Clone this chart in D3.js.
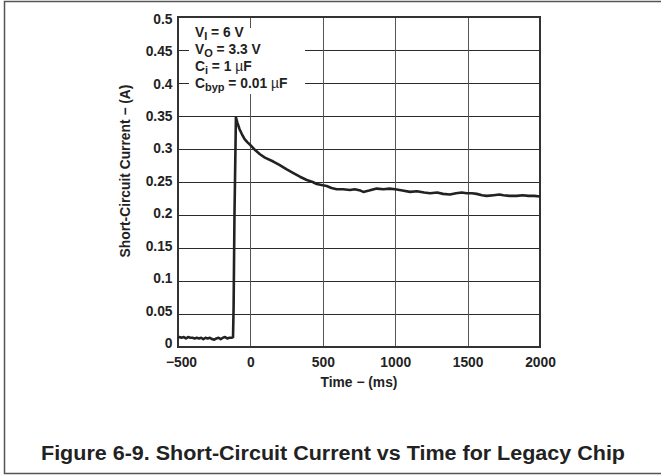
<!DOCTYPE html>
<html>
<head>
<meta charset="utf-8">
<script src="https://cdn.jsdelivr.net/npm/d3@7/dist/d3.min.js"></script>
<style>
  html, body { margin: 0; padding: 0; background: #fff; }
  svg { display: block; }
  text { font-family: "Liberation Sans", Arial, Helvetica, sans-serif; font-weight: bold; fill: #222; }
</style>
</head>
<body>
<svg id="chart" width="661" height="476"></svg>
<script>
// ---- data ----
const timeMs = [-500,-490,-475,-460,-445,-430,-415,-400,-385,-370,-355,-340,-325,-310,-295,-280,-265,-250,-235,-220,-205,-190,-175,-160,-145,-130,-120,
  -116,-110,-106,-100,-90,-75,-60,-40,-20,0,30,66,100,158,200,251,300,342,389,430,458,500,527,560,596,640,688,720,760,780,820,872,920,960,1000,
  1050,1102,1150,1200,1240,1290,1330,1378,1420,1460,1494,1530,1563,1600,1632,1680,1720,1747,1790,1839,1880,1920,1960,2000];
const currentA = [0.014,0.015,0.014,0.015,0.013,0.015,0.014,0.014,0.013,0.014,0.013,0.014,0.012,0.014,0.013,0.014,0.012,0.011,0.013,0.014,0.012,0.014,0.015,0.013,0.014,0.014,0.015,
  0.06,0.2,0.258,0.348,0.340,0.330,0.323,0.315,0.310,0.306,0.299,0.292,0.287,0.281,0.276,0.269,0.263,0.258,0.253,0.250,0.247,0.245,0.244,0.241,0.239,0.239,0.238,0.239,0.237,0.235,0.237,0.240,0.239,0.240,0.239,
  0.237,0.235,0.236,0.234,0.233,0.234,0.232,0.231,0.233,0.234,0.233,0.233,0.232,0.230,0.229,0.230,0.231,0.230,0.229,0.229,0.230,0.229,0.229,0.228];
const xTicks = [-500, 0, 500, 1000, 1500, 2000];
const xTickLabels = ["\u2212500", "0", "500", "1000", "1500", "2000"];
const yTicks = [0, 0.05, 0.1, 0.15, 0.2, 0.25, 0.3, 0.35, 0.4, 0.45, 0.5];
const yTickLabels = ["0", "0.05", "0.1", "0.15", "0.2", "0.25", "0.3", "0.35", "0.4", "0.45", "0.5"];
const xTitle = "Time \u2212 (ms)";
const yTitle = "Short-Circuit Current \u2212 (A)";
const figTitle = "Figure 6-9. Short-Circuit Current vs Time for Legacy Chip";
const conditions = [
  {main: "V", sub: "I", rest: " = 6 V", unit: ""},
  {main: "V", sub: "O", rest: " = 3.3 V", unit: ""},
  {main: "C", sub: "i", rest: " = 1 ", unit: "\u00b5F"},
  {main: "C", sub: "byp", rest: " = 0.01 ", unit: "\u00b5F"}
];

// ---- layout ----
const svg = d3.select("#chart");
const L = 178, R = 540, T = 17, B = 347;
const FS = "13.8px";
const x = d3.scaleLinear().domain([-500, 2000]).range([L, R]);
const y = d3.scaleLinear().domain([0, 0.5]).range([B, T]);
// tick labels in the original sit on a slightly tighter spacing than the grid
const yLab = d3.scaleLinear().domain([0, 0.5]).range([342.5, 18.3]);

// outer frame
svg.append("rect").attr("x", 4.5).attr("y", 1.5).attr("width", 700).attr("height", 472)
  .attr("fill", "none").attr("stroke", "#555").attr("stroke-width", 1.5);

// grid
const grid = svg.append("g");
grid.selectAll("line.h").data(yTicks.slice(1, -1)).join("line")
  .attr("x1", L).attr("x2", R).attr("y1", d => Math.round(y(d)) + 0.5).attr("y2", d => Math.round(y(d)) + 0.5)
  .attr("stroke", "#2a2a2a").attr("stroke-width", 1);
grid.selectAll("line.v").data(xTicks.slice(1, -1)).join("line")
  .attr("y1", T).attr("y2", B).attr("x1", d => Math.round(x(d)) + 0.5).attr("x2", d => Math.round(x(d)) + 0.5)
  .attr("stroke", "#555").attr("stroke-width", 1);

// white box behind conditions
svg.append("rect").attr("x", 189).attr("y", 28).attr("width", 116).attr("height", 66).attr("fill", "#fff");

// plot frame
svg.append("rect").attr("x", L).attr("y", T).attr("width", R - L).attr("height", B - T)
  .attr("fill", "none").attr("stroke", "#333").attr("stroke-width", 2);

// axes (labels only)
const xAxis = d3.axisBottom(x).tickValues(xTicks).tickSize(0).tickPadding(0)
  .tickFormat((d, i) => xTickLabels[i]);
const gx = svg.append("g").attr("transform", `translate(0,${B})`).call(xAxis);
gx.select(".domain").remove();
gx.selectAll("text").attr("dy", null).attr("y", 19.5).style("font-size", FS)
  .style("font-family", "Liberation Sans, Arial, sans-serif").style("font-weight", "bold").attr("fill", "#222");
gx.selectAll("text").filter((d, i) => i === 0).attr("x", 3);

const yAxis = d3.axisLeft(yLab).tickValues(yTicks).tickSize(0).tickPadding(0)
  .tickFormat((d, i) => yTickLabels[i]);
const gy = svg.append("g").attr("transform", `translate(${L - 5.5},0)`).call(yAxis);
gy.select(".domain").remove();
gy.selectAll("text").attr("dy", "0.36em").attr("x", 0).style("font-size", FS)
  .style("font-family", "Liberation Sans, Arial, sans-serif").style("font-weight", "bold").attr("fill", "#222");

// curve
const pts = timeMs.map((t, i) => [t, currentA[i]]);
svg.append("path").datum(pts)
  .attr("d", d3.line().x(d => x(d[0])).y(d => y(d[1])))
  .attr("fill", "none").attr("stroke", "#222").attr("stroke-width", 2.6).attr("stroke-linejoin", "round");

// conditions text
const cg = svg.append("g");
conditions.forEach((c, i) => {
  const t = cg.append("text").attr("x", 195).attr("y", 36.5 + i * 17.2).style("font-size", "13.8px");
  t.append("tspan").text(c.main);
  t.append("tspan").attr("dy", 3).style("font-size", "11px").text(c.sub);
  t.append("tspan").attr("dy", -3).text(c.rest);
  if (c.unit) {
    t.append("tspan").style("font-weight", "normal").text(c.unit[0]);
    t.append("tspan").text(c.unit.slice(1));
  }
});

// axis titles
svg.append("text").attr("x", 359).attr("y", 387).attr("text-anchor", "middle").style("font-size", FS).text(xTitle);
svg.append("text").attr("transform", "translate(130,171) rotate(-90)").attr("text-anchor", "middle")
  .style("font-size", FS).text(yTitle);

// figure title
svg.append("text").attr("x", 333).attr("y", 460).attr("text-anchor", "middle")
  .style("font-size", "20px").attr("textLength", 584).attr("lengthAdjust", "spacingAndGlyphs").attr("fill", "#111")
  .text(figTitle);
</script>
</body>
</html>
